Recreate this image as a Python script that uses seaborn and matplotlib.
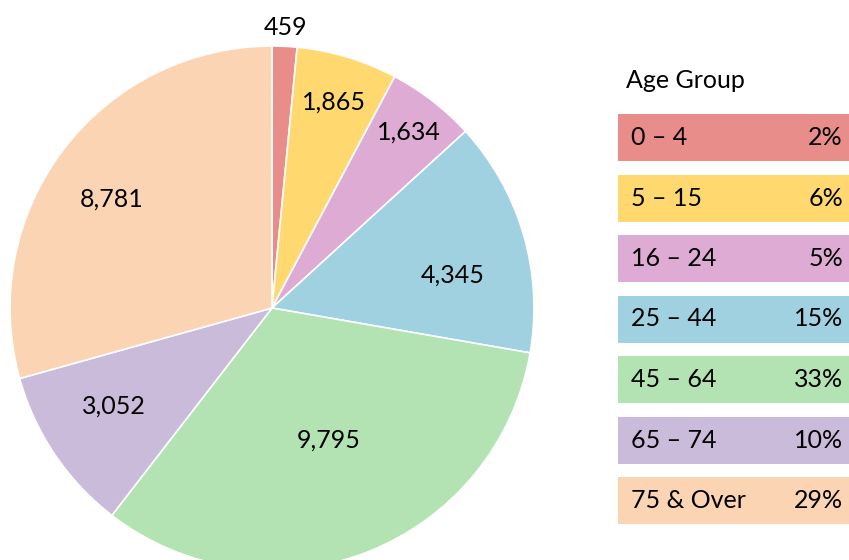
import numpy as np
import matplotlib
matplotlib.use("Agg")
import matplotlib.pyplot as plt
import seaborn as sns
from matplotlib.patches import Rectangle

# data
age_groups = ['0 \u2013 4', '5 \u2013 15', '16 \u2013 24', '25 \u2013 44', '45 \u2013 64', '65 \u2013 74', '75 & Over']
counts = [459, 1865, 1634, 4345, 9795, 3052, 8781]
colors = ['#E98D8B', '#FFD96F', '#DEABD4', '#9FD1E0', '#B3E2B3', '#C9BBD9', '#FBD4B4']

# label placement: distance from centre (fraction of radius) and angle nudge (deg)
label_dist = [1.07, 0.82, 0.85, 0.70, 0.55, 0.71, 0.74]
label_nudge = [0, 0, 0, -6, 2, -2, 3]

sns.set_theme(style="white")
plt.rcParams['font.family'] = ['Lato', 'DejaVu Sans']
FS = 18

W, H = 849, 560
fig = plt.figure(figsize=(W / 100, H / 100), dpi=100)
ax = fig.add_axes([0, 0, 1, 1])

cx, cy, r = 272, H - 308, 262
wedges, _ = ax.pie(counts, colors=colors, startangle=90, counterclock=False,
                   center=(cx, cy), radius=r,
                   wedgeprops=dict(edgecolor='white', linewidth=1.2))

total = sum(counts)
for w, n, d, nd in zip(wedges, counts, label_dist, label_nudge):
    ang = np.deg2rad((w.theta1 + w.theta2) / 2 + nd)
    ax.text(cx + d * r * np.cos(ang), cy + d * r * np.sin(ang), f'{n:,}',
            ha='center', va='center', fontsize=FS, color='black')

# legend as coloured boxes
ax.text(626, H - 80, 'Age Group', ha='left', va='center', fontsize=FS, color='black')
top0, step, bh = 114, 60.5, 47
for i, (g, n, c) in enumerate(zip(age_groups, counts, colors)):
    top = top0 + i * step
    ax.add_patch(Rectangle((618, H - top - bh), 260, bh, facecolor=c, edgecolor='none'))
    yc = H - top - bh / 2
    ax.text(631, yc, g, ha='left', va='center', fontsize=FS, color='black')
    ax.text(843, yc, f'{n / total:.0%}', ha='right', va='center', fontsize=FS, color='black')

ax.set_xlim(0, W)
ax.set_ylim(0, H)
ax.set_aspect('auto')
ax.axis('off')

fig.savefig('out.png', dpi=100)
